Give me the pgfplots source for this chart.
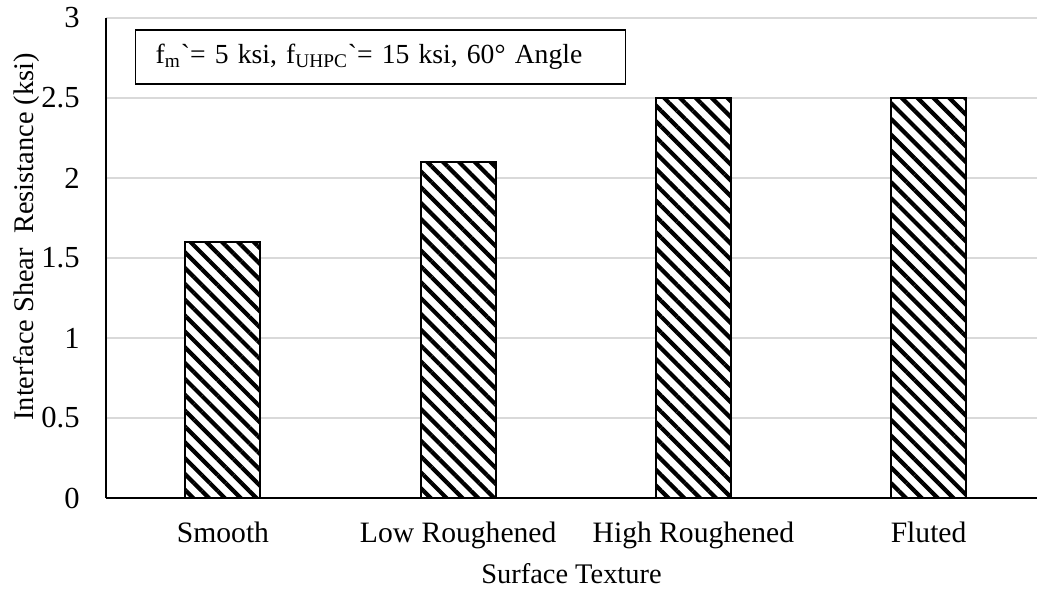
\documentclass[border=0pt]{standalone}
\usepackage{fontspec}
\setmainfont{Liberation Serif}
\usepackage{pgfplots}
\pgfplotsset{compat=1.18}
\usetikzlibrary{patterns.meta}

\definecolor{gridgray}{HTML}{D9D9D9}
\newcommand{\chartfont}{\fontsize{14.2}{17}\selectfont}

\begin{document}
\begin{tikzpicture}[font=\chartfont]
\begin{axis}[
    scale only axis,
    width=465.5pt, height=240pt,
    xmin=-0.4974, xmax=3.461,
    ymin=0, ymax=3,
    ytick={0,0.5,1,1.5,2,2.5,3},
    xtick={0,1,2,3},
    xticklabels={Smooth, Low Roughened, High Roughened, Fluted},
    major tick length=0pt,
    tick style={draw=none},
    axis lines*=left,
    axis line style={-, black, line width=0.75pt},
    ymajorgrids,
    grid style={gridgray, line width=1pt},
    /pgf/number format/assume math mode=true,
    yticklabel style={anchor=east, inner sep=0pt, xshift=-13pt, font=\fontsize{15.3}{18}\selectfont},
    xticklabel style={anchor=base, inner sep=0pt, yshift=-22pt, font=\fontsize{14.8}{18}\selectfont},
    xlabel={Surface Texture},
    xlabel style={at={(axis description cs:0.5,0)}, anchor=base, inner sep=0pt, yshift=-42.5pt, font=\chartfont},
    ylabel={Interface Shear \ Resistance (ksi)},
    ylabel style={at={(axis description cs:-0.0784,0.544)}, rotate=0, anchor=base, inner sep=0pt, font=\chartfont},
    clip=false,
]
\addplot[ybar, bar width=37.5pt, draw=black, line width=1pt, fill=white,
    postaction={pattern={Lines[angle=-45, distance=5.6pt, line width=2.1pt]}, pattern color=black}]
    coordinates {(0,1.6) (1,2.1) (2,2.5) (3,2.5)};
\node[draw=black, line width=0.75pt, fill=white, anchor=north west,
      minimum width=245pt, minimum height=27pt, inner xsep=10pt,
      text width=225pt, align=left, font=\fontsize{13.8}{17}\selectfont]
    at (axis description cs:0.0311,0.977)
    {f\textsubscript{m}\textasciigrave= 5 ksi, f\textsubscript{UHPC}\textasciigrave= 15 ksi, 60° Angle};
\end{axis}
\pgfresetboundingbox
\path[use as bounding box] (-53pt,-46pt) rectangle (465.5pt,249pt);
\end{tikzpicture}
\end{document}
